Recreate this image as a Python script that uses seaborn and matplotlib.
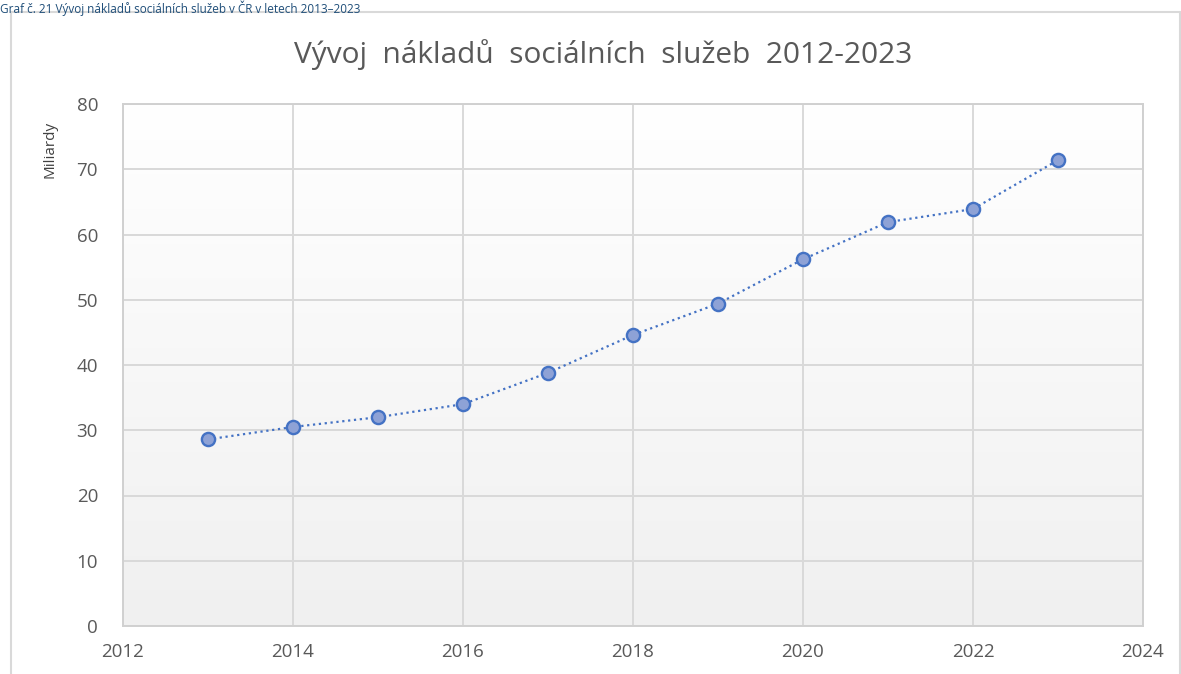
import matplotlib.pyplot as plt
import numpy as np
import pandas as pd
import seaborn as sns
from matplotlib.colors import LinearSegmentedColormap
from matplotlib.lines import Line2D

years = [2013, 2014, 2015, 2016, 2017, 2018, 2019, 2020, 2021, 2022, 2023]
costs = [28.6, 30.5, 32.0, 34.0, 38.8, 44.6, 49.4, 56.2, 61.9, 63.9, 71.4]
x_ticks = [2012, 2014, 2016, 2018, 2020, 2022, 2024]
y_ticks = [0, 10, 20, 30, 40, 50, 60, 70, 80]

TITLE = "Vývoj  nákladů  sociálních  služeb  2012-2023"
CAPTION = "Graf č. 21 Vývoj nákladů sociálních služeb v ČR v letech 2013–2023"

df = pd.DataFrame({"rok": years, "naklady": costs})

sns.set_theme(style="white")
plt.rcParams["font.family"] = ["Open Sans", "DejaVu Sans"]

W, H = 1181, 674
fig = plt.figure(figsize=(W / 100, H / 100), dpi=100)
ax = fig.add_axes([123 / W, 1 - 626 / H, (1143 - 123) / W, (626 - 104) / H])

# plot area: light gray at the bottom fading to white at the top
grad = np.linspace(0, 1, 256).reshape(-1, 1)
bg = LinearSegmentedColormap.from_list("bg", ["#f0f0f0", "#ffffff"])
ax.imshow(grad, cmap=bg, aspect="auto", origin="lower",
          extent=[2012, 2024, 0, 80], zorder=0)

sns.lineplot(data=df, x="rok", y="naklady", ax=ax, color="#4472c4",
             linestyle=":", linewidth=1.6, marker="o", markersize=9.5,
             markerfacecolor="#8ea2d6", markeredgecolor="#4472c4",
             markeredgewidth=1.7, zorder=3)

ax.set_xlim(2012, 2024)
ax.set_ylim(0, 80)
ax.set_xticks(x_ticks)
ax.set_yticks(y_ticks)
ax.grid(True, color="#d9d9d9", linewidth=1.4, zorder=1)
ax.set_axisbelow(True)
for s in ax.spines.values():
    s.set_color("#d0d0d0")
    s.set_linewidth(1.4)
ax.tick_params(axis="both", length=0, labelsize=13.5, labelcolor="#595959")
ax.tick_params(axis="x", pad=12)
ax.tick_params(axis="y", pad=18)
ax.set_xlabel("")
ax.set_ylabel("Miliardy", fontsize=11, color="#404040")
ax.yaxis.set_label_coords(-0.064, 0.912)

fig.text(603 / W, 1 - 55 / H, TITLE, ha="center", va="center",
         fontsize=21.5, color="#595959")
fig.text(0, 1 - 1 / H, CAPTION, ha="left", va="top",
         fontsize=8.5, color="#1f4e79")

# outer chart frame
fig.add_artist(Line2D([11 / W, 11 / W], [0, 1 - 12 / H],
                      transform=fig.transFigure, color="#d9d9d9", lw=1.5))
fig.add_artist(Line2D([11 / W, 1180 / W], [1 - 12 / H, 1 - 12 / H],
                      transform=fig.transFigure, color="#d9d9d9", lw=1.5))
fig.add_artist(Line2D([1180 / W, 1180 / W], [0, 1 - 12 / H],
                      transform=fig.transFigure, color="#d9d9d9", lw=1.5))

fig.savefig("out.png", dpi=100, facecolor="white")
